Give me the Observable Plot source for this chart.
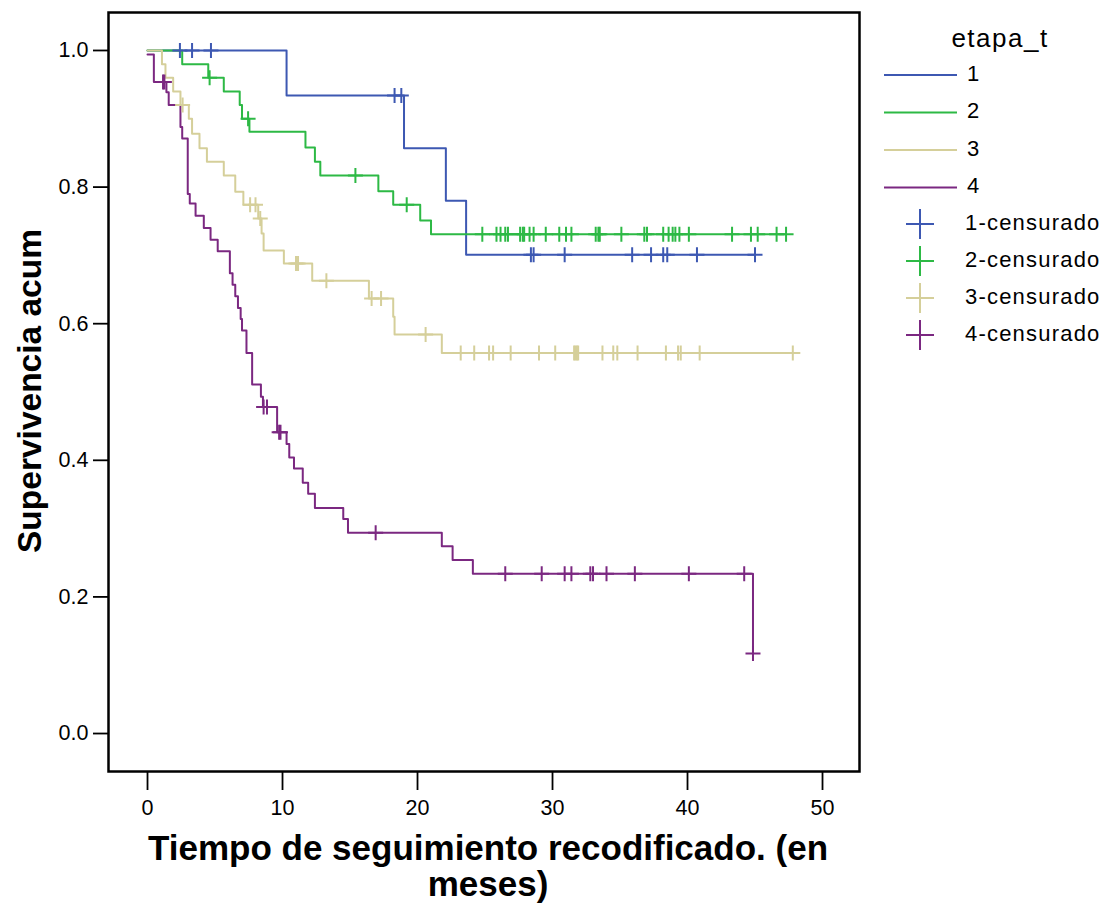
<!DOCTYPE html>
<html>
<head>
<meta charset="utf-8">
<script src="https://cdn.jsdelivr.net/npm/d3@7"></script>
<script src="https://cdn.jsdelivr.net/npm/@observablehq/plot@0.6"></script>
<style>
  body { margin: 0; background: white; }
  #wrap { position: relative; width: 1109px; height: 905px; font-family: "Liberation Sans", Arial, sans-serif; }
  #legend { position: absolute; left: 0; top: 0; }
</style>
</head>
<body>
<div id="wrap"></div>
<script>
// ---- Data ----
const groups = ["1", "2", "3", "4"];
const groupColors = ["#3d58b2", "#2db945", "#d5cf9a", "#7b2881"];
const legendTitle = "etapa_t";
const censorSuffix = "-censurado";
const xTitle = "Tiempo de seguimiento recodificado. (en\nmeses)";
const yTitle = "Supervivencia acum";
const xTicks = [0, 10, 20, 30, 40, 50];
const yTicks = [0, 0.2, 0.4, 0.6, 0.8, 1.0];

// Group 1 (blue)
const eventTimes1 = [0, 10.3, 19.0, 22.1, 23.6];
const survival1   = [1.0, 0.934, 0.857, 0.780, 0.701];
const censorTimes1 = [2.4, 3.3, 4.7, 18.3, 18.8, 28.4, 28.6, 30.9, 35.9, 37.3, 38.2, 38.5, 40.7, 45.0];

// Group 2 (green)
const eventTimes2 = [0, 2.57, 4.5, 5.65, 6.83, 7.0, 7.55, 11.7, 12.4, 12.8, 17.1, 18.2, 20.2, 21.0];
const survival2   = [1.0, 0.980, 0.960, 0.940, 0.920, 0.900, 0.881, 0.858, 0.837, 0.817, 0.794, 0.774, 0.751, 0.731];
const censorTimes2 = [4.6, 7.45, 15.4, 19.2, 24.8, 25.85, 26.15, 26.5, 26.7, 27.6, 27.8, 27.9, 28.3, 28.6, 29.5,
  30.5, 31.0, 31.4, 33.2, 33.4, 33.5, 35.1, 36.8, 37.0, 38.2, 38.6, 38.9, 39.1, 39.4, 40.1, 43.3, 44.7, 45.2, 46.6, 47.3];

// Group 3 (beige)
const eventTimes3 = [0, 1.07, 1.33, 1.9, 2.44, 3.06, 3.3, 3.85, 4.4, 5.65, 6.5, 7.1, 8.2, 8.45, 8.6, 10.1, 12.2, 16.4, 18.2, 18.3, 21.8];
const survival3   = [1.0, 0.980, 0.960, 0.940, 0.920, 0.900, 0.878, 0.857, 0.837, 0.817, 0.793, 0.774, 0.754, 0.732, 0.707, 0.688, 0.663, 0.637, 0.610, 0.584, 0.557];
const censorTimes3 = [2.6, 7.6, 8.0, 8.35, 11.0, 11.15, 13.25, 16.6, 17.3, 20.6, 23.2, 24.2, 25.3, 25.6, 26.9, 29.0, 30.2,
  31.6, 31.7, 31.8, 31.9, 33.7, 34.5, 34.8, 36.3, 38.4, 39.3, 39.5, 40.9, 47.8];

// Group 4 (purple)
const eventTimes4 = [0, 0.47, 1.4, 1.57, 2.44, 2.57, 2.98, 3.13, 3.56, 4.17, 4.67, 5.2, 6.1, 6.3, 6.5, 6.7, 6.9, 7.0, 7.33, 7.75,
  8.4, 8.55, 9.6, 10.3, 10.5, 10.85, 11.5, 11.9, 12.4, 14.5, 14.85, 21.8, 22.6, 24.1, 44.85];
const survival4   = [0.994, 0.954, 0.939, 0.920, 0.888, 0.871, 0.790, 0.776, 0.758, 0.740, 0.723, 0.706, 0.674, 0.657, 0.640, 0.623, 0.607, 0.590, 0.557, 0.511,
  0.493, 0.478, 0.441, 0.424, 0.404, 0.388, 0.367, 0.351, 0.330, 0.314, 0.294, 0.274, 0.254, 0.234, 0.117];
const censorTimes4 = [1.15, 1.25, 8.6, 8.85, 9.75, 9.85, 16.9, 26.5, 29.2, 30.9, 31.4, 32.8, 33.0, 34.0, 36.1, 40.1, 44.2, 44.85];

// ---- Build tables ----
const series = [
  [eventTimes1, survival1, censorTimes1],
  [eventTimes2, survival2, censorTimes2],
  [eventTimes3, survival3, censorTimes3],
  [eventTimes4, survival4, censorTimes4]
];
function stepValue(ts, ss, t) {
  let v = ss[0];
  for (let i = 0; i < ts.length; i++) if (ts[i] <= t) v = ss[i];
  return v;
}
const lineRows = [];
const censorRows = [];
series.forEach(([ts, ss, cs], gi) => {
  const g = groups[gi];
  ts.forEach((t, i) => lineRows.push({group: g, t, s: ss[i]}));
  const tEnd = Math.max(ts[ts.length - 1], d3.max(cs));
  lineRows.push({group: g, t: tEnd, s: stepValue(ts, ss, tEnd)});
  cs.forEach(t => censorRows.push({group: g, t, s: stepValue(ts, ss, t)}));
});

const cross = {
  draw(context, size) {
    const r = Math.sqrt(size / Math.PI);
    context.moveTo(-r, 0); context.lineTo(r, 0);
    context.moveTo(0, -r); context.lineTo(0, r);
  }
};

const chart = Plot.plot({
  width: 1109,
  height: 905,
  marginLeft: 108,
  marginRight: 250,
  marginTop: 12,
  marginBottom: 134,
  style: {fontFamily: "'Liberation Sans', Arial, sans-serif", background: "white", color: "black"},
  x: {domain: [-2.89, 52.74]},
  y: {domain: [-0.0556, 1.0556]},
  color: {domain: groups, range: groupColors},
  marks: [
    Plot.line(lineRows, {x: "t", y: "s", z: "group", stroke: "group", curve: "step-after", strokeWidth: 2}),
    Plot.dot(censorRows, {x: "t", y: "s", stroke: "group", fill: "none", symbol: cross, r: 7.5, strokeWidth: 2}),
    Plot.frame({stroke: "black", strokeWidth: 2.5}),
    Plot.axisX({ticks: xTicks, tickSize: 19, tickPadding: 9, fontSize: 21.5, strokeWidth: 1.8, label: null, tickFormat: d3.format("d")}),
    Plot.axisY({ticks: yTicks, tickSize: 15, tickPadding: 5, fontSize: 21.5, strokeWidth: 1.8, label: null, tickFormat: d3.format(".1f")}),
    Plot.text([xTitle], {text: d => d, frameAnchor: "bottom", textAnchor: "middle", lineAnchor: "top", dy: 62, dx: 4, fontSize: 35, fontWeight: "bold", lineHeight: 1.05, fill: "black"}),
    Plot.text([yTitle], {text: d => d, frameAnchor: "left", textAnchor: "middle", lineAnchor: "middle", rotate: -90, dx: -78, dy: -1, fontSize: 33.5, fontWeight: "bold", fill: "black"})
  ]
});
document.getElementById("wrap").appendChild(chart);

// ---- Legend ----
const leg = d3.select("#wrap").append("svg")
  .attr("id", "legend").attr("width", 1109).attr("height", 905)
  .style("font-family", "'Liberation Sans', Arial, sans-serif");
leg.append("text").attr("x", 1000).attr("y", 40).attr("text-anchor", "middle").attr("dominant-baseline", "middle")
  .attr("font-size", 26).attr("letter-spacing", 1.5).text(legendTitle);
groups.forEach((g, i) => {
  const y = 75 + i * 37.5;
  leg.append("line").attr("x1", 884).attr("x2", 957).attr("y1", y).attr("y2", y)
    .attr("stroke", groupColors[i]).attr("stroke-width", 2);
  leg.append("text").attr("x", 967).attr("y", y).attr("dominant-baseline", "middle")
    .attr("font-size", 22).text(g);
});
groups.forEach((g, i) => {
  const y = 224 + i * 37;
  leg.append("path").attr("d", `M${906},${y}H${934}M${920},${y - 15}V${y + 15}`)
    .attr("stroke", groupColors[i]).attr("stroke-width", 2).attr("fill", "none");
  leg.append("text").attr("x", 965).attr("y", y).attr("dominant-baseline", "middle")
    .attr("font-size", 22).attr("letter-spacing", 1.2).text(g + censorSuffix);
});
</script>
</body>
</html>
